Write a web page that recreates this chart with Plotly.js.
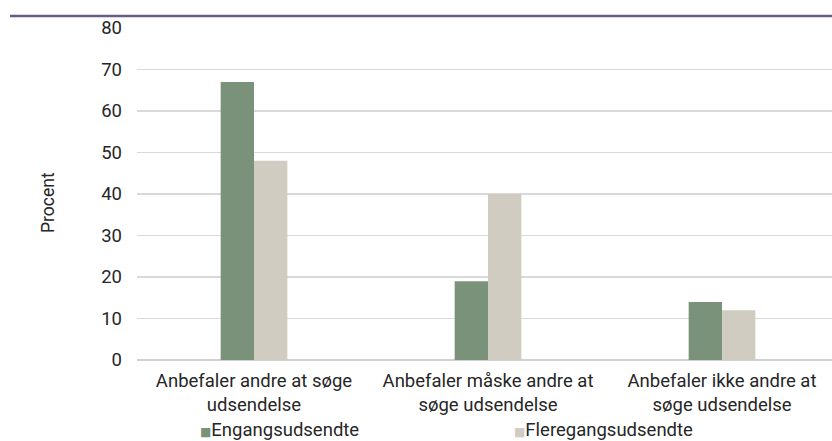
<!DOCTYPE html>
<html>
<head>
<meta charset="utf-8">
<script src="https://cdn.plot.ly/plotly-3.0.1.min.js"></script>
<style>html,body{margin:0;padding:0;background:#fff;}#chart{width:832px;height:441px;}</style>
</head>
<body>
<div id="chart"></div>
<script>
var categories = [
  "Anbefaler andre at søge<br>udsendelse",
  "Anbefaler måske andre at<br>søge udsendelse",
  "Anbefaler ikke andre at<br>søge udsendelse"
];
var seriesNames = ["Engangsudsendte", "Fleregangsudsendte"];
var seriesColors = ["#7a927a", "#d0ccc2"];
var engangs = [67, 19, 14];
var fleregangs = [48, 40, 12];
var yTicks = [0, 10, 20, 30, 40, 50, 60, 70, 80];
var yTitle = "Procent";

var FONT = "Roboto, 'Liberation Sans', sans-serif";
var W = 832, L = 137, PW = W - L, T = 28, PH = 332;
function px2x(p) { return (p - L) / PW; }
function px2y(p) { return (T + PH - p) / PH; }

var traces = [
  {type: "bar", name: seriesNames[0], x: [0, 1, 2], y: engangs,
   marker: {color: seriesColors[0]}, hoverinfo: "y", showlegend: false},
  {type: "bar", name: seriesNames[1], x: [0, 1, 2], y: fleregangs,
   marker: {color: seriesColors[1]}, hoverinfo: "y", showlegend: false}
];

var legendX = [198, 512];
var legendAnn = seriesNames.map(function (n, i) {
  return {text: '<span style="color:' + seriesColors[i] + ';font-size:12px;font-family:DejaVu Sans">■</span>' + n,
          xref: "paper", yref: "paper", x: px2x(legendX[i]), y: px2y(429.5),
          xanchor: "left", yanchor: "middle", showarrow: false,
          font: {family: FONT, size: 18.5, color: "#262626"}};
});

var layout = {
  width: 832, height: 441,
  margin: {l: L, r: 0, t: T, b: 441 - T - PH},
  paper_bgcolor: "#fff", plot_bgcolor: "#fff",
  font: {family: FONT, size: 19, color: "#262626"},
  barmode: "group", bargap: 0.715, bargroupgap: 0,
  showlegend: false,
  xaxis: {range: [-0.5, 2.47], tickvals: [0, 1, 2], ticktext: categories,
          showgrid: false, zeroline: false, showline: false, ticks: "",
          ticklabelstandoff: 7,
          tickfont: {family: FONT, size: 18.5, color: "#262626"}, fixedrange: true},
  yaxis: {range: [0, 80], tickvals: yTicks, showgrid: true, gridcolor: "#d9d9d9", gridwidth: 1.3,
          zeroline: true, zerolinecolor: "#d0d0d0", zerolinewidth: 1.3, showline: false, ticks: "",
          ticklabelstandoff: 14,
          tickfont: {family: FONT, size: 18.5, color: "#262626"}, fixedrange: true},
  annotations: [
    {text: yTitle, textangle: -90, xref: "paper", yref: "paper",
     x: px2x(48), y: px2y(203), xanchor: "center", yanchor: "middle",
     showarrow: false, font: {family: FONT, size: 17.5, color: "#262626"}}
  ].concat(legendAnn),
  shapes: [
    {type: "line", xref: "paper", yref: "paper", x0: px2x(10), x1: 1,
     y0: px2y(16), y1: px2y(16),
     line: {color: "#6a5a8a", width: 2.5}}
  ]
};

Plotly.newPlot("chart", traces, layout, {displayModeBar: false, staticPlot: true});
</script>
</body>
</html>
